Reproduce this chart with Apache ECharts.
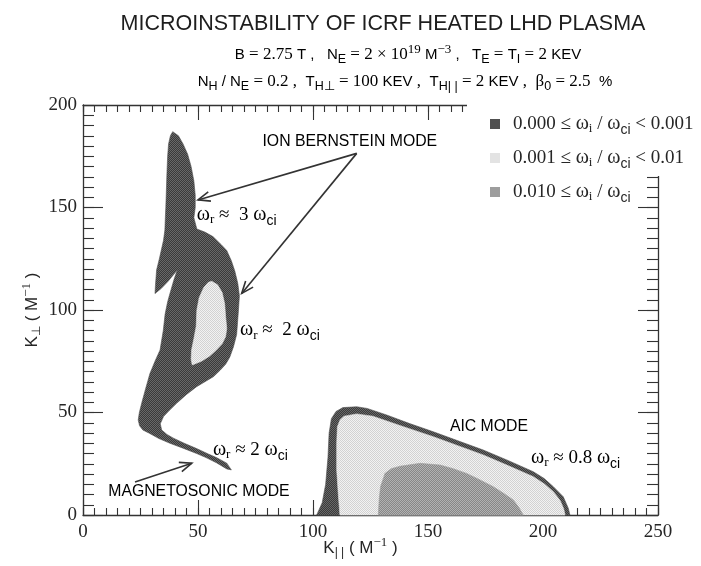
<!DOCTYPE html>
<html>
<head>
<meta charset="utf-8">
<script src="https://cdn.jsdelivr.net/npm/echarts@6/dist/echarts.min.js"></script>
<style>
html, body { margin: 0; padding: 0; background: #fff; }
#main { width: 701px; height: 566px; }
</style>
</head>
<body>
<div id="main"></div>
<script>
// ion Bernstein region, outer band (0.000 <= wi/wci < 0.001)
var ibwOuter = [[39,187],[41.5,185],[43.5,181],[45.5,176],[47,170],[48.2,163],[48.8,156],[48.8,150],[48.2,145],[49.5,139.5],
  [53,138],[56.5,135.8],[60,132],[62.5,129],[64.5,124],[66,119],[67.3,113],[68,107],[67.6,100],[67.2,94],[66.8,88],
  [65.4,82],[63.8,77],[62,73.5],[59.5,70.5],[56.7,67.5],[53,65],[49.4,62.6],[45,58.8],[40.7,54.5],[37.5,51],[35,48],
  [33.6,44.5],[34.2,41.5],[36.5,39.3],[39.3,37.5],[44,35],[49.4,32.4],[54,30],[58,28],[62.5,25.3],[64.5,22],
  [62.5,22.5],[58,25.5],[53.5,28],[49.4,30],[43.5,32.6],[37.8,35],[33,37.3],[29,39.8],[26,41.5],[24.6,43.5],[24,46.3],
  [24.5,50],[25.5,54.5],[27.2,61.5],[29.1,69],[31.3,75],[33.5,80.5],[34.9,90],[35.7,98],[36.8,104],[38.3,110],
  [39.6,115],[41,119.5],[37,114],[34,110.5],[31.3,108],[31.5,112],[32,119.5],[33.2,125],[34,129],[35,134],[35.6,139],
  [35.8,145],[36,150],[36.3,160],[36.5,167],[36.8,175],[37.2,181],[38,185]];
// ion Bernstein region, inner part (0.001 <= wi/wci < 0.01)
var ibwInner = [[56,114],[58.5,112.3],[60.5,108.5],[61.6,103],[62,97],[62.5,91],[62,87],[60.5,83.5],[58,80.5],[55,77.5],
  [51.5,75],[47.5,73.2],[47,76],[47.2,80.5],[48.2,86],[49.2,92],[49.5,100],[50.5,106],[52.5,111],[54.5,113.5]];
// AIC region
var aicOuter = [[101.6,0],[104,6],[105.5,15],[106.5,28],[107,40],[108,47],[110,50.5],[113,52.4],[119,52.8],[123.5,52],
  [132,48.8],[142,44.6],[152.3,40.6],[163,36.2],[174,31.7],[185,26.5],[195.8,21.1],[200.5,17.8],[204.5,13.8],
  [208.8,8.9],[211,3.3],[211.7,0]];
var aicLight = [[111.7,0],[111,10],[110.3,22],[110.3,35],[110.6,43],[111.8,46.5],[113.5,48.2],[119,49.3],[126,48.2],
  [139,43.2],[152.3,38.2],[163,33.8],[174,29.3],[185,24],[195.8,18.7],[200.5,15.2],[204.5,11.4],[207.5,7],[209,3],[209.6,0]];
var aicCore = [[128.4,0],[128.8,8],[129.4,14],[131.3,20.3],[134,22.6],[137.8,23.8],[146.5,25.2],[155.2,24.4],[161,22.6],
  [166.8,20.3],[172,17.5],[178.4,13.8],[183,10.5],[187.1,7.3],[189.6,3.5],[191.4,0]];

var levelNames = ['low', 'mid', 'high'];
var levelLabels = [
  '{n|0.000 ≤ }{w|ω}{si|i}{n| / }{w|ω}{sc|ci}{n| < 0.001}',
  '{n|0.001 ≤ }{w|ω}{si|i}{n| / }{w|ω}{sc|ci}{n| < 0.01}',
  '{n|0.010 ≤ }{w|ω}{si|i}{n| / }{w|ω}{sc|ci}'
];

// annotation arrows (from, to) in axis units
var arrows = [
  [[119, 176.4], [50, 153.7]],
  [[119, 176.4], [69, 108.1]],
  [[22.6, 16.1], [47.3, 25.3]]
];

var serif = 'Liberation Serif';
var sans = 'Liberation Sans';
var ink = '#262626';

// sub/superscripts: middle aligned, shifted by half of the padding
function sub(family, size, shift) {
  return { fontFamily: family, fontSize: size, color: ink, verticalAlign: 'middle', padding: [shift * 2, 0, 0, 0] };
}
function sup(family, size, shift) {
  return { fontFamily: family, fontSize: size, color: ink, verticalAlign: 'middle', padding: [0, 0, shift * 2, 0] };
}

var rich = {
  n: { fontFamily: serif, fontSize: 19, color: ink, lineHeight: 26 },
  w: { fontFamily: serif, fontSize: 20, color: ink, lineHeight: 26 },
  si: sub(serif, 13, 5),
  sc: sub(sans, 14, 6),
  m: { fontFamily: sans, fontSize: 17, color: ink, lineHeight: 24 },
  md: { fontFamily: sans, fontSize: 15.8, color: ink },
  ms: sub(sans, 12, 5),
  mp: sup(serif, 13, 5),
  tn: { fontFamily: serif, fontSize: 17, color: ink, lineHeight: 26 },
  ts: { fontFamily: sans, fontSize: 15, color: ink, lineHeight: 26 },
  tb: sub(sans, 12.5, 5),
  tp: sup(serif, 13, 5)
};

var colors = ['#505050', '#e3e3e3', '#9d9d9d'];
var dither = [['#3a3a3a', '#686868'], ['#f2f2f2', '#d2d2d2'], ['#878787', '#b2b2b2']];

function pattern(pair) {
  var c = document.createElement('canvas');
  c.width = 2; c.height = 2;
  var ctx = c.getContext('2d');
  ctx.fillStyle = pair[0]; ctx.fillRect(0, 0, 2, 2);
  ctx.fillStyle = pair[1]; ctx.fillRect(0, 0, 1, 1); ctx.fillRect(1, 1, 1, 1);
  return { image: c, repeat: 'repeat' };
}

function regionSeries(name, polys, k) {
  var fill = pattern(dither[k]);
  return {
    name: name,
    type: 'custom',
    xAxisIndex: 0,
    yAxisIndex: 0,
    silent: true,
    animation: false,
    itemStyle: { color: colors[k] },
    data: polys.map(function (p, i) { return [p[0][0], p[0][1], i]; }),
    renderItem: function (params, api) {
      var poly = polys[api.value(2)];
      var pts = poly.map(function (p) { return api.coord(p); });
      return {
        type: 'polygon',
        shape: { points: pts },
        style: { fill: fill, stroke: colors[k], lineWidth: 0.6 }
      };
    }
  };
}

var tickStyle = { color: '#333', width: 1.1 };

// major axes carry the line, labels and long ticks; minor ones only the short ticks
function xAx(pos, showLabel) {
  return {
    type: 'value', position: pos, min: 0, max: 250, interval: 50,
    axisLine: { show: true, onZero: false, lineStyle: { color: '#333', width: 1.3 } },
    axisTick: { inside: true, length: 15, lineStyle: tickStyle },
    splitLine: { show: false },
    axisLabel: { show: showLabel, fontFamily: serif, fontSize: 19, color: ink, margin: 8,
      showMinLabel: true, showMaxLabel: true },
    name: showLabel ? '{m|K}{ms|| |}{m| ( M}{mp|−1}{m| )}' : '',
    nameLocation: 'middle', nameGap: 21, nameMoveOverlap: false,
    nameTextStyle: { rich: rich, padding: [0, 20, 0, 0] }
  };
}
function xMinor(pos) {
  return {
    type: 'value', position: pos, min: 0, max: 250, interval: 5,
    axisLine: { show: false, onZero: false },
    axisTick: { inside: true, length: 7, lineStyle: tickStyle },
    splitLine: { show: false }, axisLabel: { show: false }
  };
}
function yAx(pos, showLabel) {
  return {
    type: 'value', position: pos, min: 0, max: 200, interval: 50,
    axisLine: { show: true, onZero: false, lineStyle: { color: '#333', width: 1.3 } },
    axisTick: { inside: true, length: 20, lineStyle: tickStyle },
    splitLine: { show: false },
    axisLabel: { show: showLabel, fontFamily: serif, fontSize: 19, color: ink, margin: 6,
      showMinLabel: true, showMaxLabel: true },
    name: showLabel ? '{m|K}{ms|⊥}{m| ( M}{mp|−1}{m| )}' : '',
    nameLocation: 'middle', nameGap: 39, nameRotate: 90, nameMoveOverlap: false,
    nameTextStyle: { rich: rich }
  };
}
function yMinor(pos) {
  return {
    type: 'value', position: pos, min: 0, max: 200, interval: 5,
    axisLine: { show: false, onZero: false },
    axisTick: { inside: true, length: 11, lineStyle: tickStyle },
    splitLine: { show: false }, axisLabel: { show: false }
  };
}

var chart = echarts.init(document.getElementById('main'));

chart.setOption({
  backgroundColor: '#fff',
  animation: false,
  grid: { left: 83, right: 43, top: 105, bottom: 51, outerBoundsMode: 'none' },
  xAxis: [xAx('bottom', true), xAx('top', false), xMinor('bottom'), xMinor('top')],
  yAxis: [yAx('left', true), yAx('right', false), yMinor('left'), yMinor('right')],
  legend: {
    orient: 'vertical', left: 485, top: 109, z: 10,
    icon: 'rect', itemWidth: 10, itemHeight: 10, itemGap: 11,
    selectedMode: false,
    data: levelNames,
    formatter: function (name) { return levelLabels[levelNames.indexOf(name)]; },
    textStyle: { rich: rich, padding: [0, 0, 0, 8] }
  },
  series: [
    regionSeries('low', [ibwOuter, aicOuter], 0),
    regionSeries('mid', [ibwInner, aicLight], 1),
    regionSeries('high', [aicCore], 2)
  ]
});

function px(p) { return chart.convertToPixel({ seriesIndex: 0 }, p); }

var g = [
  // blank patch where the frame is lost behind the legend
  { type: 'rect', z: 5, shape: { x: 467, y: 92, width: 234, height: 84 }, style: { fill: '#fff' } },
  { type: 'text', z: 6, x: 383, y: 24, style: { text: 'MICROINSTABILITY OF ICRF HEATED LHD PLASMA',
      fontFamily: sans, fontSize: 21.5, fill: '#1e1e1e', align: 'center', verticalAlign: 'middle' } },
  { type: 'text', z: 6, x: 408, y: 55, style: {
      text: '{ts|B}{tn| = 2.75 }{ts|T ,   N}{tb|E}{tn| = 2 × 10}{tp|19}{ts| M}{tp|−3}{ts| ,   T}{tb|E}{tn| = }{ts|T}{tb|I}{tn| = 2 }{ts|KEV}',
      rich: rich, align: 'center', verticalAlign: 'middle' } },
  { type: 'text', z: 6, x: 405, y: 82, style: {
      text: '{ts|N}{tb|H}{ts| / N}{tb|E}{tn| = 0.2 ,  }{ts|T}{tb|H⊥}{tn| = 100 }{ts|KEV}{tn| ,  }{ts|T}{tb|H| |}{tn| = 2 }{ts|KEV}{tn| ,  β}{tb|0}{tn| = 2.5  }{ts|%}',
      rich: rich, align: 'center', verticalAlign: 'middle' } }
];

var notes = [
  { at: [116, 182], text: '{md|ION BERNSTEIN MODE}', align: 'center' },
  { at: [50.4, 11.2], text: '{md|MAGNETOSONIC MODE}', align: 'center' },
  { at: [176.5, 42.9], text: '{md|AIC MODE}', align: 'center' },
  { at: [49.5, 146.5], text: '{w|ω}{si|r}{n| ≈  3 }{w|ω}{sc|ci}', align: 'left' },
  { at: [68.3, 90.2], text: '{w|ω}{si|r}{n| ≈  2 }{w|ω}{sc|ci}', align: 'left' },
  { at: [56.5, 31.7], text: '{w|ω}{si|r}{n| ≈ 2 }{w|ω}{sc|ci}', align: 'left' },
  { at: [194.8, 27.8], text: '{w|ω}{si|r}{n| ≈ 0.8 }{w|ω}{sc|ci}', align: 'left' }
];
notes.forEach(function (t) {
  var p = px(t.at);
  g.push({ type: 'text', z: 6, x: p[0], y: p[1],
    style: { text: t.text, rich: rich, align: t.align, verticalAlign: 'middle' } });
});

arrows.forEach(function (a) {
  var p0 = px(a[0]), p1 = px(a[1]);
  var ang = Math.atan2(p0[1] - p1[1], p0[0] - p1[0]);
  var L = 13, s = 0.38;
  var h1 = [p1[0] + L * Math.cos(ang + s), p1[1] + L * Math.sin(ang + s)];
  var h2 = [p1[0] + L * Math.cos(ang - s), p1[1] + L * Math.sin(ang - s)];
  g.push({ type: 'line', z: 6, shape: { x1: p0[0], y1: p0[1], x2: p1[0], y2: p1[1] },
    style: { stroke: '#333', lineWidth: 1.6 } });
  g.push({ type: 'polyline', z: 6, shape: { points: [h1, p1, h2] },
    style: { stroke: '#333', lineWidth: 1.6, fill: null } });
});

chart.setOption({ graphic: g });
</script>
</body>
</html>
